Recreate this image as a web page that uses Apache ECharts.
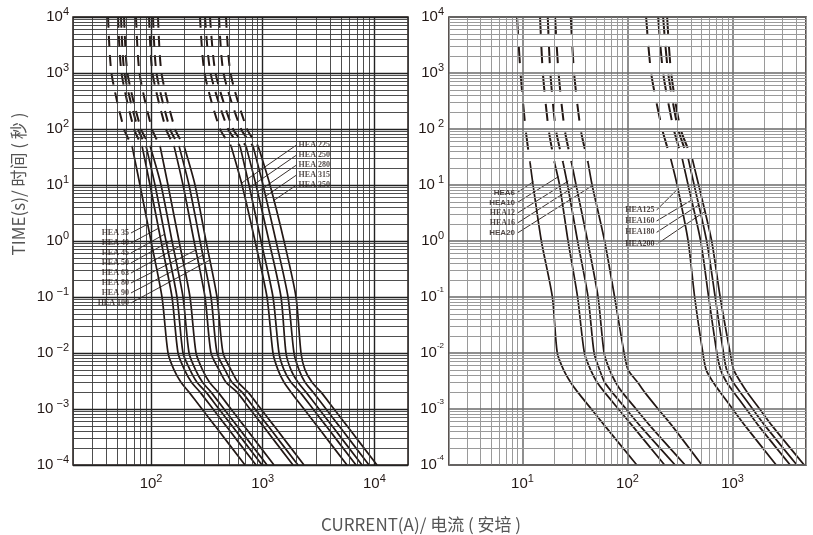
<!DOCTYPE html>
<html><head><meta charset="utf-8">
<script src="https://cdn.jsdelivr.net/npm/echarts@6/dist/echarts.min.js"></script>
<style>html,body{margin:0;padding:0;background:#fff}#c{width:813px;height:535px}</style>
</head><body><div id="c"></div>
<script>
// ---------- data (current in A, time in s) ----------
const DASH_T_L  = [10000, 1000, 100, 50];
const SOLID_T_L = [50, 10, 1, 0.1, 0.01, 0.005, 0.003, 0.002, 0.001, 0.0005, 0.0001];
const DASH_T_R1  = [10000, 1000, 100, 25];
const SOLID_T_R1 = [25, 10, 1, 0.1, 0.01, 0.005, 0.003, 0.002, 0.001, 0.0005, 0.0001];
const DASH_T_R2  = [10000, 1000, 100, 30];
const SOLID_T_R2 = [30, 10, 1, 0.1, 0.01, 0.005, 0.003, 0.002, 0.001, 0.0005, 0.0001];

// left panel, group 1
const HEA35_D  = [41.2, 44.2, 57.3, 67.5];
const HEA35_S  = [67.5, 79.6, 99.9, 125.3, 141.9, 160.6, 185.4, 218.7, 285.9, 373.9, 694];
const HEA40_D  = [50.6, 54.4, 70.4, 83.0];
const HEA40_S  = [83.0, 97.9, 122.8, 154.0, 174.4, 199.4, 230.2, 274.4, 358.7, 469.1, 870.6];
const HEA45_D  = [53.8, 57.8, 76.4, 90.1];
const HEA45_S  = [90.1, 108.5, 136.1, 170.7, 193.4, 223.4, 257.9, 310.6, 406.0, 530.9, 985.5];
const HEA50_D  = [57.3, 61.5, 81.3, 97.9];
const HEA50_S  = [97.9, 122.8, 154.1, 193.3, 218.9, 250.3, 288.9, 344.3, 450.1, 588.7, 1093];
const HEA63_D  = [73.3, 78.8, 102.0, 120.3];
const HEA63_S  = [120.3, 141.8, 177.9, 223.2, 252.8, 289.0, 333.7, 397.7, 519.9, 679.9, 1262];
const HEA80_D  = [95.9, 103.0, 136.1, 160.5];
const HEA80_S  = [160.5, 193.3, 242.5, 304.1, 344.4, 406.2, 468.9, 588.4, 769.2, 1006, 1867];
const HEA90_D  = [104.1, 111.9, 147.8, 177.9];
const HEA90_S  = [177.9, 218.7, 274.4, 344.2, 389.8, 459.7, 530.7, 652.3, 852.8, 1115, 2070];
const HEA100_D = [115.4, 124.0, 163.9, 197.3];
const HEA100_S = [197.3, 247.5, 310.5, 389.6, 441.2, 520.3, 600.6, 738.4, 965.2, 1262, 2343];
// left panel, group 2
const HEA225_D = [274.4, 301.1, 414.4, 519.9];
const HEA225_S = [519.9, 652.4, 852.8, 1092, 1236, 1370, 1551, 1792, 2343, 3063, 5685];
const HEA250_D = [304.2, 340.8, 488.7, 625.9];
const HEA250_S = [625.9, 753.7, 965.2, 1236, 1399, 1551, 1792, 2157, 2821, 3688, 6844];
const HEA280_D = [337.3, 377.7, 541.8, 708.4];
const HEA280_S = [708.4, 870.8, 1138, 1458, 1616, 1791, 2070, 2442, 3193, 4174, 7746];
const HEA315_D = [406.0, 445.5, 639.1, 818.5];
const HEA315_S = [818.5, 1006, 1315, 1685, 1906, 2113, 2392, 2821, 3689, 4822, 8950];
const HEA350_D = [469.0, 514.6, 723.1, 907.2];
const HEA350_S = [907.2, 1162, 1551, 1986, 2202, 2391, 2763, 3327, 4349, 5686, 10553];
// right panel, group 1
const HEA6_D  = [8.885, 9.593, 10.71, 11.82];
const HEA6_S  = [11.82, 12.62, 15.14, 19.27, 21.45, 24.64, 28.72, 33.56, 45.23, 60.93, 122.6];
const HEA10_D = [14.71, 15.64, 17.73, 20.22];
const HEA10_S = [20.22, 22.56, 27.19, 33.48, 38.87, 44.54, 51.34, 60.40, 81.92, 111.4, 225.6];
const HEA12_D = [17.42, 18.44, 20.76, 24.37];
const HEA12_S = [24.37, 26.89, 33.48, 42.15, 48.09, 54.26, 60.53, 71.35, 97.0, 131.9, 284.0];
const HEA16_D = [20.44, 22.07, 25.18, 29.36];
const HEA16_S = [29.36, 32.40, 41.69, 52.48, 59.87, 67.55, 77.05, 88.85, 120.8, 164.1, 353.6];
const HEA20_D = [28.85, 31.01, 35.75, 42.15];
const HEA20_S = [42.15, 46.03, 60.53, 75.38, 92.83, 101.4, 124.8, 145.5, 195.7, 266.0, 510.2];
// right panel, group 2
const HEA125_D = [150.4, 167.8, 213.6, 257.3];
const HEA125_S = [257.3, 296.8, 377.8, 435.6, 521.6, 560.6, 653.6, 762.0, 1002, 1319, 2603];
const HEA160_D = [195.7, 218.3, 274.9, 331.2];
const HEA160_S = [331.2, 377.8, 497.0, 592.2, 708.9, 770.4, 878.8, 1025, 1348, 1773, 3537];
const HEA180_D = [218.3, 243.7, 303.4, 377.8];
const HEA180_S = [377.8, 430.9, 566.8, 683.0, 819.2, 878.8, 1013, 1182, 1554, 2044, 4096];
const HEA200_D = [238.4, 260.2, 320.4, 412.4];
const HEA200_S = [412.4, 475.7, 632.5, 762.0, 949.0, 1025, 1195, 1378, 1812, 2384, 4808];

// annotation labels (data coordinates)
const LABELS_L1 = ['HEA 35','HEA 40','HEA 45','HEA 50','HEA 63','HEA 80','HEA 90','HEA 100'];
const LABEL_T_L1 = [1.39, 0.921, 0.611, 0.405, 0.268, 0.178, 0.118, 0.0781];
const LEADER_END_L1 = [[93.9,2.012],[117.8,1.706],[133.3,1.334],[154.0,1.042],[181.6,0.814],[252.7,0.691],[291.9,0.562],[337.2,0.458]];
const LABELS_L2 = ['HEA 225','HEA 250','HEA 280','HEA 315','HEA 350'];
const LABEL_T_L2 = [51.8, 34.3, 22.8, 15.1, 10.0];
const LEADER_END_L2 = [[647,10.81],[761.5,9.02],[896.4,7.50],[1054.7,6.23],[1241.3,5.20]];
const LABELS_R1 = ['HEA6','HEA10','HEA12','HEA16','HEA20'];
const LABEL_T_R1 = [7.29, 4.83, 3.12, 2.07, 1.373];
const LEADER_END_R1 = [[12.70,11.45],[21.98,14.07],[27.37,11.79],[32.90,10.0],[45.72,9.60]];
const LABELS_R2 = ['HEA125','HEA160','HEA180','HEA200'];
const LABEL_T_R2 = [3.577, 2.276, 1.430, 0.873];
const LEADER_END_R2 = [[305.4,8.73],[407.9,5.40],[475.7,4.39],[542.5,3.34]];
const ANCHOR_I = [66.1, 2010, 8.885, 189.3];
const BOXES = [
  [0, [35.6, 2.18], [70.4, 0.0358]],
  [0, [1987, 193], [4088, 7.5]],
  [1, [5.02, 8.48], [9.08, 1.179]],
  [1, [99.2, 6.36], [187.3, 0.75]]
];

// ---------- build ----------
const INK = '#231815';
const series = [];
function zip(I, T) { return I.map((v, i) => [v, T[i]]); }

function logVals(lo, hi) {
  const out = [];
  for (let e = -5; e <= 5; e++) for (let k = 1; k <= 9; k++) {
    const v = k * Math.pow(10, e);
    if (v >= lo * 0.9999 && v <= hi * 1.0001) out.push({ v, major: k === 1 });
  }
  return out;
}
function gridLines(gi, xr, yr, minor, major) {
  const data = [];
  logVals(xr[0], xr[1]).forEach(o => data.push({ xAxis: o.v, lineStyle: o.major ? major : minor }));
  logVals(yr[0], yr[1]).forEach(o => data.push({ yAxis: o.v, lineStyle: o.major ? major : minor }));
  series.push({
    type: 'line', xAxisIndex: gi, yAxisIndex: gi, z: 1, silent: true,
    data: [[xr[0], yr[0]]], showSymbol: false, lineStyle: { opacity: 0 },
    markLine: { silent: true, precision: 12, symbol: ['none', 'none'], label: { show: false }, animation: false,
      emphasis: { disabled: true }, data }
  });
}
gridLines(0, [20, 20000], [1e-4, 1e4], { color: '#3a3a3a', width: 0.9, type: 'solid' }, { color: '#222', width: 1.4, type: 'solid' });
gridLines(1, [2, 5000], [1e-4, 1e4], { color: '#9a9a9a', width: 1, type: 'solid' }, { color: '#6a6a6a', width: 1.5, type: 'solid' });

BOXES.forEach(b => {
  series.push({
    type: 'line', xAxisIndex: b[0], yAxisIndex: b[0], z: 2, silent: true,
    data: [], markArea: { silent: true, itemStyle: { color: '#fff' }, data: [[{ coord: b[1] }, { coord: b[2] }]] }
  });
});

function curve(gi, dI, dT, sI, sT, dash) {
  series.push({ type: 'line', xAxisIndex: gi, yAxisIndex: gi, z: 3, data: zip(dI, dT), showSymbol: false,
    smooth: 0.25,
    lineStyle: { color: INK, width: 2, type: dash }, silent: true });
  series.push({ type: 'line', xAxisIndex: gi, yAxisIndex: gi, z: 3, data: zip(sI, sT), showSymbol: false,
    smooth: 0.25,
    lineStyle: { color: INK, width: 1.7 }, silent: true });
}
const DL = [11, 8], DR = [17, 12];
curve(0, HEA35_D, DASH_T_L, HEA35_S, SOLID_T_L, DL);
curve(0, HEA40_D, DASH_T_L, HEA40_S, SOLID_T_L, DL);
curve(0, HEA45_D, DASH_T_L, HEA45_S, SOLID_T_L, DL);
curve(0, HEA50_D, DASH_T_L, HEA50_S, SOLID_T_L, DL);
curve(0, HEA63_D, DASH_T_L, HEA63_S, SOLID_T_L, DL);
curve(0, HEA80_D, DASH_T_L, HEA80_S, SOLID_T_L, DL);
curve(0, HEA90_D, DASH_T_L, HEA90_S, SOLID_T_L, DL);
curve(0, HEA100_D, DASH_T_L, HEA100_S, SOLID_T_L, DL);
curve(0, HEA225_D, DASH_T_L, HEA225_S, SOLID_T_L, DL);
curve(0, HEA250_D, DASH_T_L, HEA250_S, SOLID_T_L, DL);
curve(0, HEA280_D, DASH_T_L, HEA280_S, SOLID_T_L, DL);
curve(0, HEA315_D, DASH_T_L, HEA315_S, SOLID_T_L, DL);
curve(0, HEA350_D, DASH_T_L, HEA350_S, SOLID_T_L, DL);
curve(1, HEA6_D, DASH_T_R1, HEA6_S, SOLID_T_R1, DR);
curve(1, HEA10_D, DASH_T_R1, HEA10_S, SOLID_T_R1, DR);
curve(1, HEA12_D, DASH_T_R1, HEA12_S, SOLID_T_R1, DR);
curve(1, HEA16_D, DASH_T_R1, HEA16_S, SOLID_T_R1, DR);
curve(1, HEA20_D, DASH_T_R1, HEA20_S, SOLID_T_R1, DR);
curve(1, HEA125_D, DASH_T_R2, HEA125_S, SOLID_T_R2, DR);
curve(1, HEA160_D, DASH_T_R2, HEA160_S, SOLID_T_R2, DR);
curve(1, HEA180_D, DASH_T_R2, HEA180_S, SOLID_T_R2, DR);
curve(1, HEA200_D, DASH_T_R2, HEA200_S, SOLID_T_R2, DR);

function labelGroup(gi, names, ts, ends, anchor, side, fontFor) {
  names.forEach((n, i) => {
    series.push({ type: 'line', xAxisIndex: gi, yAxisIndex: gi, z: 4, silent: true, showSymbol: false,
      data: [[anchor, ts[i]], ends[i]], lineStyle: { color: INK, width: 0.9 } });
  });
  series.push({
    type: 'scatter', xAxisIndex: gi, yAxisIndex: gi, z: 5, silent: true, symbolSize: 0,
    data: names.map((n, i) => ({ value: [anchor, ts[i]], name: n,
      label: { fontFamily: fontFor ? fontFor(n) : 'Liberation Serif' } })),
    label: { show: true, position: side, distance: 2, formatter: '{b}', fontSize: 8, fontWeight: 'bold',
      fontFamily: 'Liberation Serif', color: INK }
  });
}
labelGroup(0, LABELS_L1, LABEL_T_L1, LEADER_END_L1, ANCHOR_I[0], 'left');
labelGroup(0, LABELS_L2, LABEL_T_L2, LEADER_END_L2, ANCHOR_I[1], 'right');
labelGroup(1, LABELS_R1, LABEL_T_R1, LEADER_END_R1, ANCHOR_I[2], 'left',
  n => (n === 'HEA12' || n === 'HEA16') ? 'Liberation Serif' : 'Liberation Sans');
labelGroup(1, LABELS_R2, LABEL_T_R2, LEADER_END_R2, ANCHOR_I[3], 'left');

// ---------- axes ----------
const rich = {
  b: { fontSize: 15, fontFamily: 'Liberation Sans', color: INK, lineHeight: 22 },
  s: { fontSize: 11, fontFamily: 'Liberation Sans', color: INK, lineHeight: 12, verticalAlign: 'top' },
  t: { fontSize: 8, fontFamily: 'Liberation Sans', color: INK, lineHeight: 10, verticalAlign: 'top' }
};
function expOf(v) { const l = Math.log10(v); const e = Math.round(l); return Math.abs(l - e) < 1e-6 ? e : null; }
const fmtPlain = v => { const e = expOf(v); return e === null ? '' : '{b|10}{s|' + e + '}'; };
const fmtLeftY = v => { const e = expOf(v); if (e === null) return ''; return e < 0 ? '{b|10}{s| \u2212' + (-e) + '}' : '{b|10}{s|' + e + '}'; };
const fmtRightY = v => { const e = expOf(v); if (e === null) return '';
  if (e < 0) return '{b|10}{t|-' + (-e) + '}';
  if (e === 1 || e === 2) return '{b|10}{s| ' + e + '}';
  return '{b|10}{s|' + e + '}'; };

function xAx(gi, min, max) {
  return { type: 'log', logBase: 10, gridIndex: gi, min, max, splitLine: { show: false }, axisTick: { show: false },
    axisLine: { show: false }, minorTick: { show: false },
    axisLabel: { formatter: fmtPlain, rich, margin: 8, showMinLabel: true, showMaxLabel: true } };
}
function yAx(gi, fmt) {
  return { type: 'log', logBase: 10, gridIndex: gi, min: 1e-4, max: 1e4, splitLine: { show: false }, axisTick: { show: false },
    axisLine: { show: false },
    axisLabel: { formatter: fmt, rich, margin: gi === 0 ? 4 : 5 } };
}

const chart = echarts.init(document.getElementById('c'));
chart.setOption({
  animation: false,
  backgroundColor: '#fff',
  grid: [
    { left: 73, top: 17, width: 335, height: 448, show: true, borderColor: INK, borderWidth: 1.5, backgroundColor: 'transparent' },
    { left: 449, top: 17, width: 357, height: 448, show: true, borderColor: INK, borderWidth: 1.5, backgroundColor: 'transparent' }
  ],
  xAxis: [xAx(0, 20, 20000), xAx(1, 2, 5000)],
  yAxis: [yAx(0, fmtLeftY), yAx(1, fmtRightY)],
  graphic: [
    { type: 'text', x: 19, y: 184, rotation: Math.PI / 2,
      style: { text: 'TIME(s)/ 时间 ( 秒 )', fontSize: 17, fontFamily: 'Noto Sans CJK SC', fill: '#555', align: 'center', verticalAlign: 'middle' } },
    { type: 'text', x: 421, y: 525,
      style: { text: 'CURRENT(A)/ 电流 ( 安培 )', fontSize: 17, fontFamily: 'Noto Sans CJK SC', fill: '#555', align: 'center', verticalAlign: 'middle' } }
  ],
  series
});
</script></body></html>
